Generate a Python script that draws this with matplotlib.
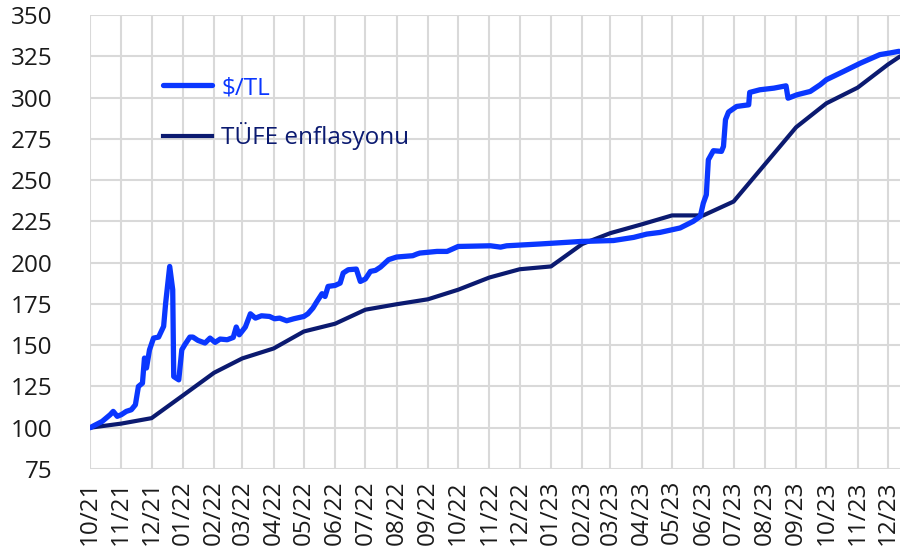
import matplotlib
matplotlib.use("Agg")
import matplotlib.pyplot as plt
import matplotlib.dates as mdates
import pandas as pd

plt.rcParams['font.family'] = ['Open Sans', 'DejaVu Sans']

# $/TL index (Oct 2021 = 100)
usd_dates = [
    "2021-10-01", "2021-10-13", "2021-10-21", "2021-10-24", "2021-10-28", "2021-11-01",
    "2021-11-06", "2021-11-11", "2021-11-15", "2021-11-18", "2021-11-22", "2021-11-24",
    "2021-11-26", "2021-11-29", "2021-12-03", "2021-12-08", "2021-12-13", "2021-12-15",
    "2021-12-19", "2021-12-22", "2021-12-23", "2021-12-28", "2021-12-31", "2022-01-03",
    "2022-01-08", "2022-01-11", "2022-01-16", "2022-01-23", "2022-01-28", "2022-02-02",
    "2022-02-07", "2022-02-14", "2022-02-20", "2022-02-23", "2022-02-26", "2022-03-04",
    "2022-03-09", "2022-03-14", "2022-03-20", "2022-03-28", "2022-04-02", "2022-04-07",
    "2022-04-14", "2022-04-21", "2022-05-01", "2022-05-05", "2022-05-10", "2022-05-14",
    "2022-05-19", "2022-05-22", "2022-05-25", "2022-06-01", "2022-06-06", "2022-06-09",
    "2022-06-14", "2022-06-22", "2022-06-26", "2022-07-01", "2022-07-06", "2022-07-11",
    "2022-07-16", "2022-07-24", "2022-08-01", "2022-08-17", "2022-08-21", "2022-08-24",
    "2022-09-10", "2022-09-20", "2022-10-01", "2022-11-02", "2022-11-12", "2022-11-18",
    "2022-12-21", "2023-01-30", "2023-03-04", "2023-03-24", "2023-04-06", "2023-04-19",
    "2023-05-09", "2023-05-22", "2023-05-29", "2023-06-01", "2023-06-04", "2023-06-06",
    "2023-06-11", "2023-06-19", "2023-06-21", "2023-06-23", "2023-06-26", "2023-07-04",
    "2023-07-16", "2023-07-17", "2023-07-27", "2023-08-10", "2023-08-22", "2023-08-24",
    "2023-09-02", "2023-09-15", "2023-09-25", "2023-10-01", "2023-10-18", "2023-11-04",
    "2023-11-23", "2023-12-03", "2023-12-12",
]
usd_values = [
    100.0, 103.8, 107.9, 109.9, 106.9, 107.9,
    109.9, 110.9, 113.9, 125.0, 127.0, 142.2,
    136.2, 147.2, 154.3, 154.9, 161.4, 175.5,
    197.7, 183.6, 131.0, 129.0, 147.2, 150.3,
    154.9, 154.9, 152.9, 151.3, 154.3, 151.7,
    153.7, 153.3, 154.7, 161.0, 156.3, 161.0,
    169.0, 166.4, 167.8, 167.4, 166.0, 166.4,
    164.8, 166.0, 167.4, 169.0, 172.5, 176.5,
    181.2, 179.5, 185.6, 186.2, 187.6, 193.7,
    195.7, 196.1, 188.6, 190.1, 194.7, 195.3,
    197.3, 201.8, 203.4, 204.2, 205.2, 205.8,
    206.8, 206.8, 209.8, 210.2, 209.4, 210.2,
    211.3, 212.8, 213.4, 215.3, 217.3, 218.3,
    221.0, 225.0, 228.0, 236.0, 241.1, 262.3,
    267.8, 267.4, 270.4, 286.6, 291.2, 294.6,
    295.6, 303.1, 304.7, 305.7, 307.1, 299.6,
    301.7, 303.7, 307.8, 310.8, 315.8, 320.9,
    326.0, 327.0, 328.0,
]

# TÜFE (CPI) index (Oct 2021 = 100)
cpi_dates = [
    "2021-10-01", "2021-11-01", "2021-12-01", "2022-01-01", "2022-02-01", "2022-03-01",
    "2022-04-01", "2022-05-01", "2022-06-01", "2022-07-01", "2022-08-01", "2022-09-01",
    "2022-10-01", "2022-11-01", "2022-12-01", "2023-01-01", "2023-02-01", "2023-03-01",
    "2023-04-01", "2023-05-01", "2023-06-01", "2023-07-01", "2023-08-01", "2023-09-01",
    "2023-10-01", "2023-11-01", "2023-12-01", "2023-12-12",
]
cpi_values = [
    100.0, 102.5, 105.8, 119.5, 133.3, 142.0,
    148.0, 158.3, 163.0, 171.5, 174.8, 177.8,
    183.6, 191.0, 196.0, 197.7, 211.3, 217.9,
    223.2, 228.6, 228.6, 237.0, 259.5, 282.0,
    296.5, 306.0, 320.0, 324.5,
]

labels = ["$/TL", "TÜFE enflasyonu"]
colors = ["#0A37FF", "#0B1A70"]

fig = plt.figure(figsize=(9.07, 5.56), dpi=100)
ax = fig.add_axes([90 / 907, 1 - 469 / 556, 810 / 907, 454 / 556])

ax.plot(pd.to_datetime(usd_dates), usd_values, color=colors[0], lw=3.8,
        solid_joinstyle='round', solid_capstyle='round', label=labels[0], zorder=3)
ax.plot(pd.to_datetime(cpi_dates), cpi_values, color=colors[1], lw=3.0,
        solid_joinstyle='round', label=labels[1], zorder=2)

ax.set_ylim(75, 350)
ax.set_yticks(range(75, 351, 25))
ax.set_xlim(pd.Timestamp("2021-10-01"), pd.Timestamp("2023-12-13"))
ax.xaxis.set_major_locator(mdates.MonthLocator())
ax.xaxis.set_major_formatter(mdates.DateFormatter('%m/%y'))

ax.grid(True, color="#D9D9D9", lw=1.5)
ax.set_axisbelow(True)
for s in ax.spines.values():
    s.set_visible(False)
ax.tick_params(axis='both', length=0, labelsize=17.5, colors='#1a1a1a')
ax.tick_params(axis='y', pad=27)
ax.tick_params(axis='x', pad=8, rotation=90)

leg = ax.legend(loc='upper left', bbox_to_anchor=(73 / 810, 1 - 61 / 454), frameon=False,
                fontsize=17.5, handlelength=2.0, handletextpad=0.4, labelspacing=0.92,
                borderpad=0, borderaxespad=0)
for t, c in zip(leg.get_texts(), colors):
    t.set_color(c)

fig.savefig("out.png", dpi=100)
